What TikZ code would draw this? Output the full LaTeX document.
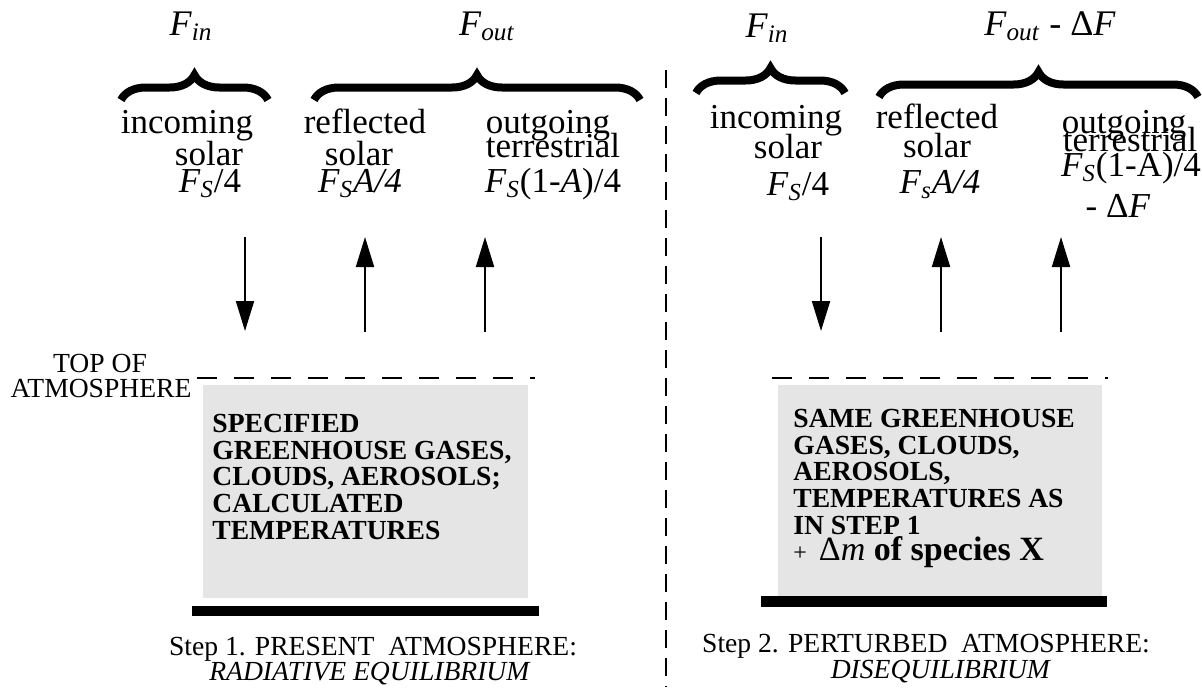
\documentclass[tikz,border=0pt]{standalone}
\usepackage{fontspec}
\setmainfont{Liberation Serif}
\usetikzlibrary{arrows.meta, decorations.pathreplacing}

\newcommand{\flux}[1]{\textit{F}\textsubscript{\textit{#1}}}

\begin{document}
\begin{tikzpicture}[
    x=0.5pt, y=-0.5pt,
    flux/.style={font=\fontsize{18}{18}\selectfont, anchor=base, inner sep=0pt},
    lbl/.style={font=\fontsize{17.5}{17.5}\selectfont, anchor=base, inner sep=0pt},
    boxtxt/.style={font=\bfseries\fontsize{13.8}{13.3}\selectfont, align=left, anchor=north west, inner sep=0pt},
    caption/.style={font=\fontsize{13.8}{13.8}\selectfont, anchor=base, inner sep=0pt},
    atmos/.style={fill=black!10},
    ground/.style={fill=black},
    toa/.style={line width=1pt, dash pattern=on 10pt off 8.5pt},
    divider/.style={line width=1pt, dash pattern=on 9pt off 5pt},
    flow/.style={line width=1pt, -{Triangle[width=9pt,length=15pt]}},
    bigbrace/.style={decorate, decoration={brace, amplitude=12.5pt}, line width=4pt}
]
\useasboundingbox (0,0) rectangle (1202,687);

% step 1: present atmosphere
\node [flux] (finL) at (191,35) {\flux{in}};
\node [flux] (foutL) at (487,35) {\flux{out}};
\draw [bigbrace] (121,100) -- (268,100);
\draw [bigbrace] (314,100) -- (640,100);

\node [lbl] (incL) at (187,133) {incoming};
\node [lbl] (solL) at (209,165) {solar};
\node [lbl] (fsL) at (210,192) {\flux{S}/4};
\node [lbl] (refL) at (365,133) {reflected};
\node [lbl] (rsolL) at (359,165) {solar};
\node [lbl] (fsaL) at (360,192) {\flux{S}\textit{A/4}};
\node [lbl] (outL) at (548,133) {outgoing};
\node [lbl] (terL) at (553,157) {terrestrial};
\node [lbl] (fterL) at (553,192) {\flux{S}(1-\textit{A})/4};

\coordinate (dnL top) at (245,237);
\coordinate (dnL end) at (245,331);
\coordinate (upL1 top) at (365,237);
\coordinate (upL1 end) at (365,332);
\coordinate (upL2 top) at (485,237);
\coordinate (upL2 end) at (485,332);
\draw [flow] (dnL top) -- (dnL end);
\draw [flow] (upL1 end) -- (upL1 top);
\draw [flow] (upL2 end) -- (upL2 top);

\node [caption] (top) at (100,372) {TOP OF};
\node [caption] (atm) at (101,397) {ATMOSPHERE};
\draw [toa] (197,378) -- (535,378);
\fill [atmos] (203,385) rectangle (528,598);
\fill [ground] (192,606) rectangle (539,616);
\node [boxtxt] (gasL) at (212,414) {SPECIFIED\\GREENHOUSE GASES,\\CLOUDS, AEROSOLS;\\CALCULATED\\TEMPERATURES};

\node [caption] (step1) at (373,655) {Step 1. PRESENT\ \ ATMOSPHERE:};
\node [caption] (eq) at (370,680) {\textit{RADIATIVE EQUILIBRIUM}};

% divider
\draw [divider] (666,70) -- (666,687);

% step 2: perturbed atmosphere
\node [flux] (finR) at (767,37) {\flux{in}};
\node [flux] (foutR) at (1050,35) {\flux{out} - Δ\textit{F}};
\draw [bigbrace] (696,93) -- (845,93);
\draw [bigbrace] (879,97) -- (1198,97);

\node [lbl] (incR) at (776,128) {incoming};
\node [lbl] (solR) at (788,158) {solar};
\node [lbl] (fsR) at (798,195) {\flux{S}/4};
\node [lbl] (refR) at (937,128) {reflected};
\node [lbl] (rsolR) at (937,157) {solar};
\node [lbl] (fsaR) at (940,193) {\flux{s}\textit{A/4}};
\node [lbl] (outR) at (1124,133) {outgoing};
\node [lbl] (terR) at (1130,151) {terrestrial};
\node [lbl] (fterR) at (1131,176) {\flux{S}(1-A)/4};
\node [lbl] (dfR) at (1118,217) {- Δ\textit{F}};

\coordinate (dnR top) at (821,237);
\coordinate (dnR end) at (821,331);
\coordinate (upR1 top) at (941,237);
\coordinate (upR1 end) at (941,332);
\coordinate (upR2 top) at (1061,237);
\coordinate (upR2 end) at (1061,332);
\draw [flow] (dnR top) -- (dnR end);
\draw [flow] (upR1 end) -- (upR1 top);
\draw [flow] (upR2 end) -- (upR2 top);

\draw [toa] (772,378) -- (1108,378);
\fill [atmos] (778,385) rectangle (1102,596);
\fill [ground] (761,596) rectangle (1107,607);
\node [boxtxt] (gasR) at (793,409) {SAME GREENHOUSE\\GASES, CLOUDS,\\AEROSOLS,\\TEMPERATURES AS\\IN STEP 1};
\node [anchor=base west, inner sep=0pt] (dm) at (793,560)
  {\fontsize{12}{12}\selectfont +\ \ \fontsize{17}{17}\selectfont Δ\textit{m} \textbf{of species X}};

\node [caption] (step2) at (926,652) {Step 2. PERTURBED\ \ ATMOSPHERE:};
\node [caption] (diseq) at (941,678) {\textit{DISEQUILIBRIUM}};
\end{tikzpicture}
\end{document}
